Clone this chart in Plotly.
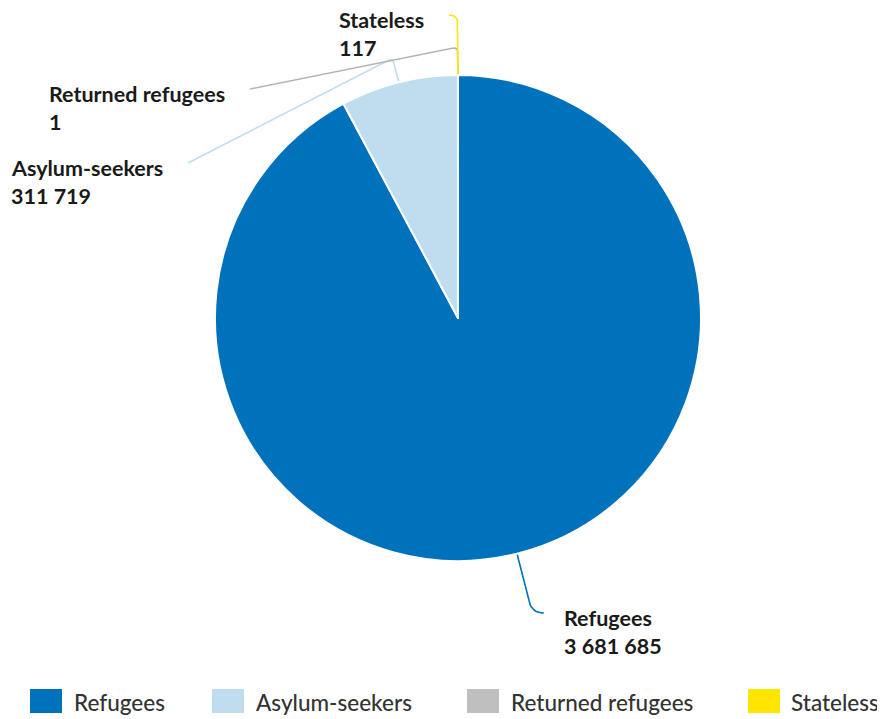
import numpy as np
import plotly.graph_objects as go

# ---- data ----
categories = ["Refugees", "Asylum-seekers", "Returned refugees", "Stateless"]
values = [3681685, 311719, 1, 117]
value_labels = ["3 681 685", "311 719", "1", "117"]
colors = ["#0072BC", "#BFDDEF", "#BFBFBF", "#FFE600"]
line_colors = ["#0072BC", "#BFDDEF", "#B4B4B4", "#FFE600"]

# ---- layout constants (screen pixels) ----
VW, VH = 885, 719          # browser viewport
OFF = 8                    # page body margin
W, H = VW - OFF, VH - OFF  # figure size
cx, cy, R = 458, 318, 243
conn_rc = [304, 268, 271, 303]
conn_end = [(542, 613), (188, 163), (250, 89), (449, 15)]
conn_round = [12, 6, 6, 9]
label_pos = [(562, 618), (9, 168), (47, 94), (337, 20)]
legend_sq_x = [30, 212, 467, 748]
legend_txt_x = [72, 254, 509, 789]
LINE_GAP = 28
FONT = "Lato"

fig = go.Figure()
fig.add_trace(go.Pie(
    labels=categories, values=values, sort=False, direction="clockwise",
    rotation=0, textinfo="none", hoverinfo="label+value", showlegend=False,
    marker=dict(colors=colors, line=dict(color="white", width=2)),
    domain=dict(x=[(cx - R - OFF) / W, (cx + R - OFF) / W],
                y=[(VH - cy - R) / H, (VH - cy + R) / H]),
))

total = float(sum(values))
cum = 0.0
for i, v in enumerate(values):
    theta = 2 * np.pi * (cum + v / 2) / total
    cum += v
    ux, uy = np.sin(theta), -np.cos(theta)
    ax, ay = cx + R * ux, cy + R * uy
    crx, cry = cx + conn_rc[i] * ux, cy + conn_rc[i] * uy
    ex, ey = conn_end[i]
    d2 = np.array([ex - crx, ey - cry])
    d2 = d2 / np.linalg.norm(d2)
    rr = conn_round[i]
    p0 = np.array([crx - rr * ux, cry - rr * uy])
    p1 = np.array([crx, cry])
    p2 = p1 + rr * d2
    t = np.linspace(0, 1, 12)[:, None]
    curve = (1 - t) ** 2 * p0 + 2 * (1 - t) * t * p1 + t ** 2 * p2
    xs = [ax] + list(curve[:, 0]) + [ex]
    ys = [ay] + list(curve[:, 1]) + [ey]
    fig.add_trace(go.Scatter(x=xs, y=ys, mode="lines", hoverinfo="skip",
                             showlegend=False,
                             line=dict(color=line_colors[i], width=1.6)))
    lx, ly = label_pos[i]
    for j, txt in enumerate([categories[i], value_labels[i]]):
        fig.add_annotation(x=lx, y=ly + j * LINE_GAP, xref="x", yref="y",
                           text=txt, showarrow=False, xanchor="left",
                           yanchor="middle",
                           font=dict(family=FONT, size=21.5, color="#1a1a1a",
                                     weight="bold"))

# custom legend
for i, c in enumerate(categories):
    fig.add_shape(type="rect", xref="x", yref="y",
                  x0=legend_sq_x[i], x1=legend_sq_x[i] + 32, y0=689, y1=713,
                  fillcolor=colors[i], line=dict(width=0))
    fig.add_annotation(x=legend_txt_x[i], y=702, xref="x", yref="y", text=c,
                       showarrow=False, xanchor="left", yanchor="middle",
                       font=dict(family=FONT, size=22.5, color="#333333",
                                 weight=500))

fig.update_xaxes(range=[OFF, VW], visible=False, fixedrange=True, domain=[0, 1])
fig.update_yaxes(range=[VH, OFF], visible=False, fixedrange=True, domain=[0, 1])
fig.update_layout(width=W, height=H, margin=dict(l=0, r=0, t=0, b=0),
                  paper_bgcolor="white", plot_bgcolor="white",
                  showlegend=False, font=dict(family=FONT))
fig.write_html("out.html")
